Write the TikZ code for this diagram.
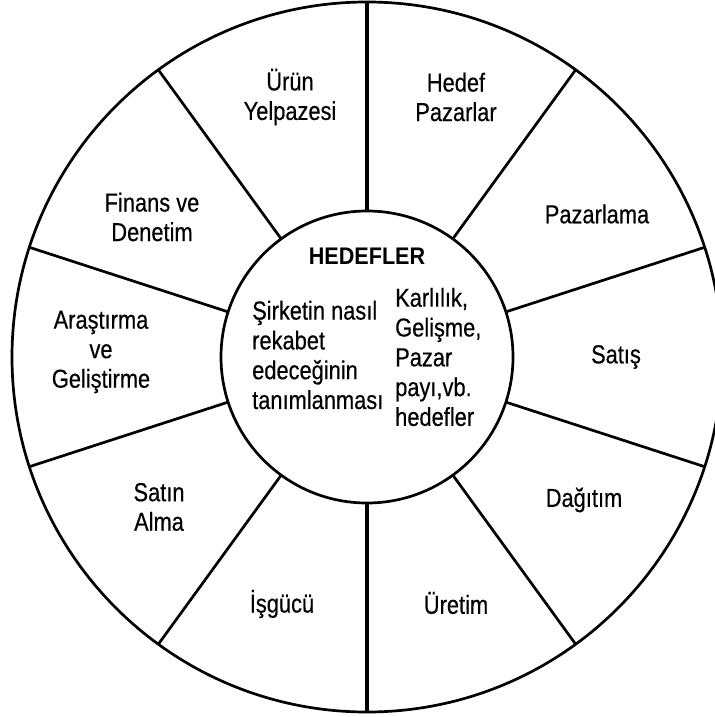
\documentclass[tikz,border=0pt]{standalone}
\usepackage{fontspec}
\setmainfont{Liberation Sans}[FakeStretch=0.84,FakeBold=0.4,BoldFeatures={FakeStretch=0.9,FakeBold=0}]
\begin{document}
\begin{tikzpicture}[x=1bp,y=-1bp,
  ring/.style={circle,draw=black,line width=2.7bp,inner sep=0pt,outer sep=0pt},
  spoke/.style={draw=black,line width=2.7bp},
  mainspoke/.style={draw=black,line width=4.5bp},
  lbl/.style={font=\fontsize{26bp}{29.5bp}\selectfont,align=center,inner sep=0pt},
  midtxt/.style={font=\fontsize{26bp}{29.8bp}\selectfont,align=left,inner sep=0pt,anchor=west},
  head/.style={font=\fontsize{24bp}{29bp}\selectfont\bfseries,inner sep=0pt}]
\useasboundingbox (0,0) rectangle (715,717);
\clip (0,0) rectangle (715,717);
\coordinate (c) at (367,357);
\node[ring,minimum size=710bp] (outer) at (c) {};
\node[ring,minimum size=292bp] (inner) at (c) {};
\foreach \a in {54,18,-18,-54,-126,-162,162,126}
  \draw[spoke] (inner.\a) -- (outer.\a);
\draw[mainspoke] (inner.90) -- (outer.90);
\draw[mainspoke] (inner.-90) -- (outer.-90);
% outer labels
\node[lbl] (urun) at (290,97) {Ürün\\Yelpazesi};
\node[lbl] (hedef) at (456,97) {Hedef\\Pazarlar};
\node[lbl] (pazarlama) at (597,214) {Pazarlama};
\node[lbl] (satis) at (616,357) {Satış};
\node[lbl] (dagitim) at (584,500) {Dağıtım};
\node[lbl] (uretim) at (456,603) {Üretim};
\node[lbl] (isgucu) at (282,604) {İşgücü};
\node[lbl] (satin) at (159,507) {Satın\\Alma};
\node[lbl] (arastirma) at (101,352) {Araştırma\\ve\\Geliştirme};
\node[lbl] (finans) at (152,217) {Finans ve\\Denetim};
% centre
\node[head] (hedefler) at (367,256) {HEDEFLER};
\node[midtxt] (sirket) at (252,355) {Şirketin nasıl\\rekabet\\edeceğinin\\tanımlanması};
\node[midtxt] (karlilik) at (395,357) {Karlılık,\\Gelişme,\\Pazar\\payı,vb.\\hedefler};
\end{tikzpicture}
\end{document}
